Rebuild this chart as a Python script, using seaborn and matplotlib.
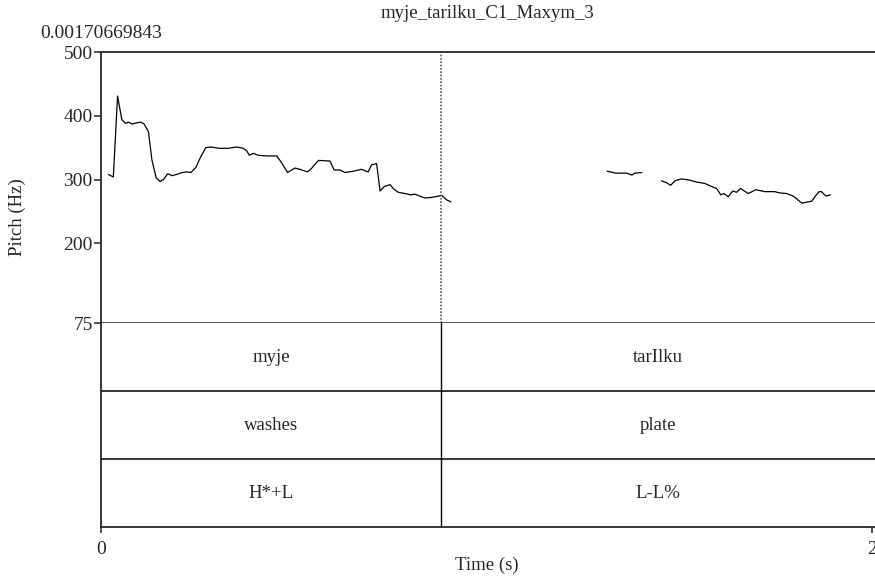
import numpy as np
import pandas as pd
import matplotlib
matplotlib.use("Agg")
import matplotlib.pyplot as plt
import seaborn as sns

# Pitch contour, three voiced stretches
seg1_t = [0.019, 0.032, 0.043, 0.054, 0.064, 0.071, 0.081, 0.093, 0.103, 0.112,
          0.123, 0.132, 0.143, 0.153, 0.162, 0.173, 0.185, 0.196, 0.211, 0.222,
          0.233, 0.246, 0.259, 0.272, 0.285, 0.306, 0.330, 0.352, 0.369, 0.378,
          0.385, 0.395, 0.408, 0.430, 0.456, 0.470, 0.484, 0.503, 0.516, 0.536,
          0.547, 0.564, 0.594, 0.605, 0.620, 0.633, 0.654, 0.676, 0.693, 0.702,
          0.715, 0.724, 0.735, 0.750, 0.758, 0.771, 0.789, 0.802, 0.815, 0.827,
          0.840, 0.858, 0.884, 0.897, 0.908]
seg1_f0 = [308, 304, 431, 394, 388, 390, 387, 389, 390, 387,
           375, 331, 303, 297, 300, 309, 306, 308, 311, 312,
           311, 319, 336, 350, 351, 349, 349, 351, 349, 345,
           338, 341, 338, 337, 337, 325, 311, 318, 316, 312,
           318, 330, 329, 315, 315, 311, 313, 316, 312, 323,
           325, 282, 289, 292, 286, 280, 278, 276, 277, 274,
           271, 272, 275, 268, 265]
seg2_t = [1.313, 1.336, 1.364, 1.377, 1.385, 1.403]
seg2_f0 = [313, 310, 310, 307, 310, 311]
seg3_t = [1.454, 1.467, 1.478, 1.489, 1.506, 1.528, 1.545, 1.566, 1.588, 1.597,
          1.608, 1.616, 1.627, 1.639, 1.649, 1.659, 1.679, 1.699, 1.722, 1.748,
          1.761, 1.779, 1.796, 1.818, 1.844, 1.852, 1.863, 1.869, 1.881, 1.893]
seg3_f0 = [298, 295, 291, 298, 301, 299, 296, 294, 288, 286,
           276, 278, 273, 282, 280, 286, 278, 284, 281, 281,
           279, 278, 274, 263, 266, 273, 281, 281, 274, 276]

# TextGrid tiers
boundary = 0.882
total_dur = 2.008
tier1 = ["myje", "tarIlku"]
tier2 = ["washes", "plate"]
tier3 = ["H*+L", "L-L%"]
title = "myje_tarilku_C1_Maxym_3"
start_label = "0.00170669843"
y_ticks = [75, 200, 300, 400, 500]

df = pd.DataFrame({
    "t": seg1_t + seg2_t + seg3_t,
    "f0": seg1_f0 + seg2_f0 + seg3_f0,
    "seg": [1] * len(seg1_t) + [2] * len(seg2_t) + [3] * len(seg3_t),
})

sns.set_style("ticks")
plt.rcParams["font.family"] = ["Liberation Serif", "DejaVu Serif"]
plt.rcParams["font.size"] = 13.5

W, H = 875, 577
fig = plt.figure(figsize=(W / 100, H / 100), dpi=100)
ax = fig.add_axes([101 / W, 1 - 323 / H, 774 / W, 271 / H])
ax2 = fig.add_axes([101 / W, 1 - 527 / H, 774 / W, 204 / H])

# pitch panel
sns.lineplot(data=df, x="t", y="f0", units="seg", estimator=None,
             color="black", linewidth=0.9, ax=ax)
ax.set_xlim(0, total_dur)
ax.set_ylim(75, 500)
ax.set_yticks(y_ticks)
ax.set_xticks([])
ax.set_xlabel("")
ax.set_ylabel("")
ax.axvline(boundary, color="#555555", linestyle=(0, (1, 1)), linewidth=1.2)
ax.spines["right"].set_visible(False)
for s in ["left", "top"]:
    ax.spines[s].set_linewidth(1.3)
ax.spines["bottom"].set_linewidth(1.1)
ax.tick_params(axis="y", direction="out", length=5, width=1.1, pad=1, labelsize=14)

# tier panel
ax2.set_xlim(0, total_dur)
ax2.set_ylim(0, 3)
ax2.axhline(1, color="black", linewidth=1.1)
ax2.axhline(2, color="black", linewidth=1.1)
ax2.axvline(boundary, color="black", linewidth=1.0)
edges = [0, boundary, total_dur]
for row, labels in zip([2.5, 1.5, 0.5], [tier1, tier2, tier3]):
    for i, lab in enumerate(labels):
        ax2.text((edges[i] + edges[i + 1]) / 2, row, lab,
                 ha="center", va="center", fontsize=13.5)
ax2.set_yticks([])
ax2.set_xticks([0, 2])
ax2.set_xticklabels(["0", "2"])
ax2.tick_params(axis="x", direction="out", length=4, width=1.1, pad=6, labelsize=14)
ax2.spines["right"].set_visible(False)
ax2.spines["top"].set_visible(False)
for s in ["left", "bottom"]:
    ax2.spines[s].set_linewidth(1.3)

fig.text(487 / W, 1 - 13 / H, title, ha="center", va="center", fontsize=13.5)
fig.text(101 / W, 1 - 34 / H, start_label, ha="center", va="center", fontsize=14)
fig.text(17 / W, 1 - 217 / H, "Pitch (Hz)", rotation=90, ha="center", va="center", fontsize=13.5)
fig.text(487 / W, 1 - 565 / H, "Time (s)", ha="center", va="center", fontsize=13.5)

fig.savefig("out.png", dpi=100)
